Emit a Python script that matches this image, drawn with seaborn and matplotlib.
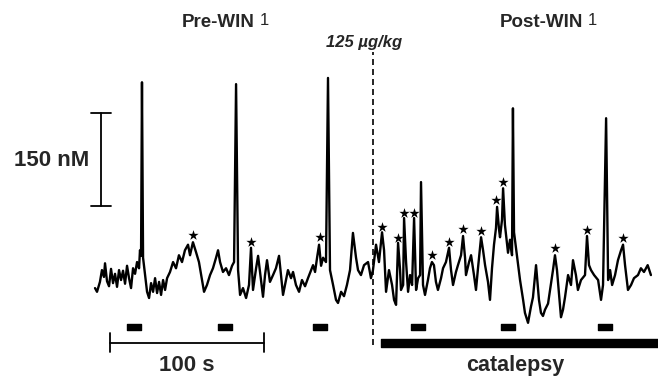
import numpy as np
import pandas as pd
import seaborn as sns
import matplotlib.pyplot as plt

# dopamine trace (time in s, concentration change in nM)
trace_t = [0, 1.3, 3.2, 4.5, 5.8, 6.5, 7.8, 9.1, 10.4, 11.7, 13.0, 14.3, 15.6, 16.9, 18.2, 19.5,
           20.8, 22.1, 23.4, 24.7, 26.0, 27.3, 28.6, 29.2, 29.9, 30.5, 31.2, 32.5, 33.8, 35.1, 36.4,
           37.7, 39.0, 40.3, 41.6, 42.9, 44.2, 45.5, 46.8, 48.7, 50.7, 52.6, 54.5, 56.5, 58.4, 60.4,
           61.7, 63.6, 65.6, 67.5, 69.5, 70.8, 72.7, 74.7, 76.6, 78.6, 79.9, 81.2, 83.1, 85.1, 87.0,
           89.0, 90.3, 91.6, 92.9, 94.2, 96.1, 98.1, 100.0, 101.3, 102.6, 104.6, 105.9, 107.8, 109.1,
           110.4, 111.7, 113.6, 115.6, 117.5, 119.5, 120.8, 122.1, 124.0, 125.3, 127.3, 128.6, 130.5,
           132.5, 134.4, 136.4, 138.3, 140.3, 141.6, 142.9, 144.2, 145.5, 146.8, 148.1, 150.0, 151.3,
           152.6, 154.6, 156.5, 157.8, 159.8, 161.7, 163.6, 165.6, 167.5, 169.5, 170.8, 172.7, 174.7,
           177.3, 179.2, 180.5, 182.5, 184.4, 186.4, 187.7, 189.0, 190.9, 192.9, 194.2, 195.5, 196.8,
           198.1, 198.7, 200.1, 200.7, 202.0, 203.3, 204.6, 205.9, 207.2, 208.5, 209.8, 211.1, 211.7,
           213.0, 214.3, 216.2, 217.5, 218.8, 220.1, 221.4, 222.7, 224.7, 226.0, 227.9, 229.9, 231.2,
           232.5, 234.4, 235.7, 237.7, 239.0, 240.3, 240.9, 242.9, 244.2, 246.1, 247.4, 248.7, 250.7,
           252.0, 253.3, 255.2, 256.5, 257.8, 259.1, 260.4, 261.1, 262.4, 263.0, 264.3, 265.0, 266.2,
           268.2, 269.5, 270.8, 271.4, 272.1, 274.0, 276.0, 278.0, 279.2, 281.2, 283.1, 284.4, 286.4,
           288.3, 289.6, 290.9, 292.2, 294.2, 295.5, 297.4, 298.7, 300.0, 302.0, 302.6, 303.9, 305.2,
           307.2, 309.1, 310.4, 312.3, 313.6, 315.6, 318.2, 319.5, 320.8, 322.1, 324.1, 326.7, 328.6,
           329.9, 331.9, 333.2, 334.5, 335.8, 337.7, 339.6, 341.6, 342.9, 344.2, 346.1, 348.1, 350.0,
           352.6, 354.5, 356.5, 358.9, 361.0]
trace_nM = [-5, -11, 5, 24, 13, 35, 6, -2, 26, 3, 18, -3, 24, 8, 23, 2,
            31, 11, -5, 27, 18, 37, 27, 56, 47, 327, 44, 16, -11, -21, 3,
            -11, 11, -13, 5, -16, 8, -8, 11, 21, 37, 27, 48, 37, 56, 65,
            48, 69, 53, 37, 8, -11, 0, 16, 27, 44, 56, 37, 21, 27, 16,
            31, 37, 324, 24, -16, -5, -21, 0, 60, -8, 27, 47, 8, -19,
            16, 40, 5, 16, 27, 47, 16, -16, 8, 24, 11, 21, 0,
            -11, 8, -2, 11, 24, 32, 21, 44, 65, 31, 44, 37, 334,
            24, 0, -24, -29, -11, -18, 0, 24, 84, 44, 24, 16, 32,
            37, 11, 24, 65, 37, 85, 56, -11, 24, 0, -24, -32, 68,
            24, -8, 0, 108, 37, -11, 16, 0, 108, -8, 11, 16, 166,
            0, -16, 8, 27, 37, 32, 5, -8, 11, 27, 37, 60, 24,
            0, 21, 32, 48, 79, 44, 16, 37, 48, 16, -8, 27, 77,
            56, 32, 5, -24, 27, 65, 92, 126, 89, 77, 105, 156, 97,
            52, 73, 48, 285, 85, 48, 8, -24, -45, -61, -35, -20, 32,
            -24, -45, -50, -40, -30, -8, 24, 48, 24, -35, -52, -40, -20,
            16, 0, 40, 16, -8, 8, 16, 79, 32, 24, 16, 8, -24,
            0, 269, 8, 24, 0, 16, 40, 56, 65, 32, -8, 0, 11,
            16, 27, 21, 32, 16]

# transients marked with asterisks
star_t = [63.6, 101.3, 146.1, 186.4, 196.8, 200.7, 207.2, 218.8, 229.9, 239.0, 250.7,
          260.4, 265.0, 298.7, 319.5, 342.9]
star_nM = [81, 69, 77, 94, 76, 116, 116, 48, 69, 90, 87, 137, 166, 60, 89, 76]

# event markers (start times, s) and their duration
event_start = [20.8, 79.9, 141.6, 205.2, 263.6, 326.6]
event_len = 9.0
drug_t = 180.5
catalepsy_start = 185.7
scale_s = 100
scale_nM = 150

df = pd.DataFrame({'t': trace_t, 'nM': trace_nM})
stars = pd.DataFrame({'t': star_t, 'nM': star_nM})

sns.set_style('white')
plt.rcParams['font.family'] = ['Liberation Sans', 'DejaVu Sans']

fig = plt.figure(figsize=(6.58, 3.76), dpi=100)
ax = fig.add_axes([0, 0, 1, 1])

sns.lineplot(data=df, x='t', y='nM', ax=ax, color='black', lw=1.7, sort=False, estimator=None)
sns.scatterplot(data=stars, x='t', y='nM', ax=ax, marker='*', s=60, color='black', linewidth=0)

# event dashes and catalepsy bar
ax.broken_barh([(s, event_len) for s in event_start], (-73, 9.5), color='black')
ax.broken_barh([(catalepsy_start, 200)], (-100, 13), color='black')

# injection line
ax.plot([drug_t, drug_t], [-97, 376], color='black', lw=1.2, dashes=(3.6, 2.4))
ax.text(174.5, 391, '125 µg/kg', ha='center', va='center', fontsize=12,
        fontweight='bold', fontstyle='italic')

# scale bars
ax.plot([3.9, 3.9], [128, 128 + scale_nM], color='black', lw=1.3)
ax.plot([-2.6, 10.4], [128, 128], color='black', lw=1.3)
ax.plot([-2.6, 10.4], [128 + scale_nM, 128 + scale_nM], color='black', lw=1.3)
ax.text(-3.9, 201, f'{scale_nM} nM', ha='right', va='center', fontsize=16, fontweight='bold')

ax.plot([9.7, 9.7 + scale_s], [-93.5, -93.5], color='black', lw=1.3)
ax.plot([9.7, 9.7], [-78, -108], color='black', lw=1.3)
ax.plot([9.7 + scale_s, 9.7 + scale_s], [-78, -108], color='black', lw=1.3)
ax.text(9.7 + scale_s / 2, -130, f'{scale_s} s', ha='center', va='center', fontsize=16,
        fontweight='bold')
ax.text(272.7, -130, 'catalepsy', ha='center', va='center', fontsize=15.5, fontweight='bold')

# section titles
ax.text(103.9, 424, 'Pre-WIN', ha='right', va='center', fontsize=13.5, fontweight='bold')
ax.text(107.1, 426, '1', ha='left', va='center', fontsize=12)
ax.text(316.9, 424, 'Post-WIN', ha='right', va='center', fontsize=13.5, fontweight='bold')
ax.text(320.1, 426, '1', ha='left', va='center', fontsize=12)

ax.set_xlim(-61.7, 365.6)
ax.set_ylim(-146.8, 459.7)
ax.axis('off')

fig.savefig('out.png', dpi=100)
